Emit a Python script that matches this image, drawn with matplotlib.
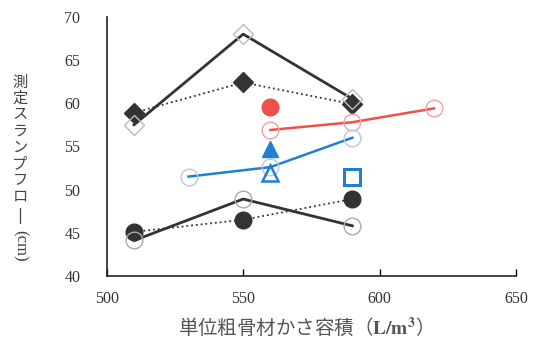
import matplotlib.pyplot as plt

plt.rcParams['font.family'] = ['Liberation Serif', 'Noto Sans CJK JP', 'DejaVu Sans']
plt.rcParams['mathtext.fontset'] = 'stix'

# open diamonds, solid line
x_od = [510, 550, 590]
y_od = [57.5, 68.0, 60.5]
# filled diamonds, dotted line
x_fd = [510, 550, 590]
y_fd = [58.9, 62.4, 59.9]
# open circles, solid black line
x_oc = [510, 550, 590]
y_oc = [44.1, 48.9, 45.8]
# filled circles, dotted line
x_fc = [510, 550, 590]
y_fc = [45.1, 46.5, 48.9]
# red series
x_red = [560, 590, 620]
y_red = [56.9, 57.8, 59.4]
x_red_pt, y_red_pt = [560], [59.6]
# blue series
x_blue = [530, 560, 590]
y_blue = [51.5, 52.6, 56.0]
x_tri_f, y_tri_f = [560], [54.7]
x_tri_o, y_tri_o = [560], [51.9]
x_sq, y_sq = [590], [51.4]

black = '#333333'
red = '#f0504a'
blue = '#1f7fd6'

fig = plt.figure(figsize=(5.42, 3.44), dpi=100)
ax = fig.add_axes([0.197, 0.198, 0.755, 0.753])

ax.plot(x_fd, y_fd, ':', color=black, lw=1.3, marker='D', ms=10,
        mfc=black, mec=black, zorder=3)
ax.plot(x_od, y_od, '-', color=black, lw=2, marker='D', ms=10,
        mfc='none', mec='#bbbbbb', zorder=4)
ax.plot(x_fc, y_fc, ':', color=black, lw=1.3, marker='o', ms=12,
        mfc=black, mec=black, zorder=3)
ax.plot(x_oc, y_oc, '-', color=black, lw=2, marker='o', ms=12,
        mfc='none', mec='#aaaaaa', zorder=4)

ax.plot(x_red, y_red, '-', color=red, lw=1.8, marker='o', ms=12,
        mfc='none', mec='#f4a0a0', zorder=4)
ax.plot(x_red_pt, y_red_pt, 'o', color=red, ms=12, zorder=4)

ax.plot(x_blue, y_blue, '-', color=blue, lw=1.8, marker='o', ms=12,
        mfc='none', mec='#b8c8e0', zorder=4)
ax.plot(x_tri_f, y_tri_f, '^', color=blue, ms=11, zorder=4)
ax.plot(x_tri_o, y_tri_o, '^', ms=11, mfc='none', mec=blue, mew=1.8, zorder=5)
ax.plot(x_sq, y_sq, 's', ms=11, mfc='none', mec=blue, mew=2.2, zorder=5)

ax.set_xlim(500, 650)
ax.set_ylim(40, 70)
ax.set_xticks([500, 550, 600, 650])
ax.set_yticks([40, 45, 50, 55, 60, 65, 70])
ax.tick_params(axis='x', direction='in', length=5, width=1, labelsize=11.5, pad=11,
               labelcolor='#333333')
ax.tick_params(axis='y', length=0, labelsize=11.5, pad=19, labelcolor='#333333')
for s in ['top', 'right']:
    ax.spines[s].set_visible(False)
for s in ['left', 'bottom']:
    ax.spines[s].set_linewidth(1.2)
    ax.spines[s].set_color('#222222')

fig.text(0.555, 0.048, '単位粗骨材かさ容積（$\\mathbf{L/m^3}$）', ha='center', va='center',
         fontsize=14, color='#555555', family=['Noto Sans CJK JP', 'DejaVu Sans'])

fig.text(0.037, 0.595, '測\n定\nス\nラ\nン\nプ\nフ\nロ', ha='center', va='center',
         fontsize=11, linespacing=0.95, color='#444444',
         family=['Noto Sans CJK JP', 'DejaVu Sans'])
fig.text(0.037, 0.372, '|', ha='center', va='center', fontsize=11, color='#444444',
         family=['DejaVu Sans'])
fig.text(0.037, 0.285, '(cm)', ha='center', va='center', rotation=-90,
         fontsize=12, color='#444444')

fig.savefig('out.png', dpi=100)
